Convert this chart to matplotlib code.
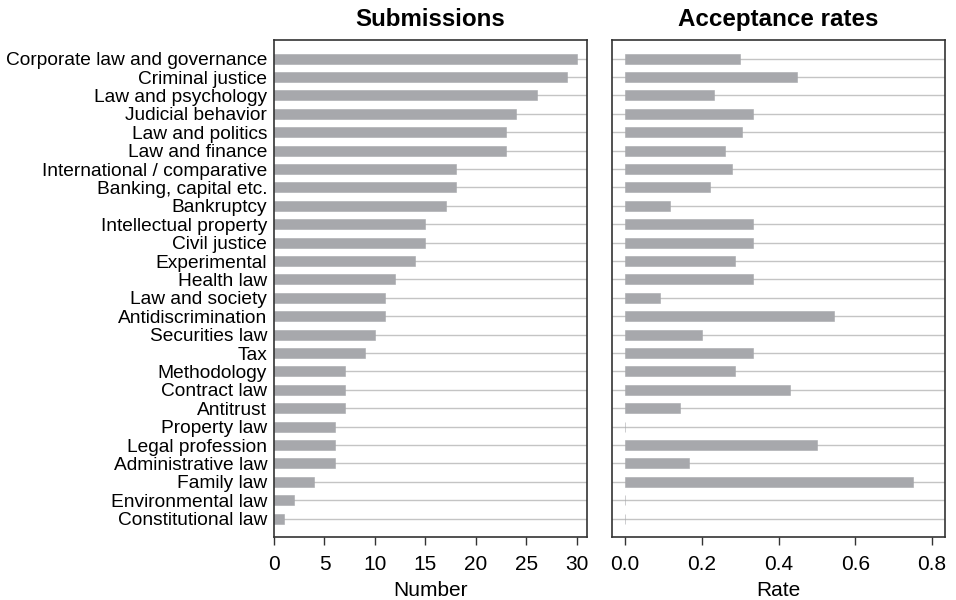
import numpy as np
import matplotlib.pyplot as plt

plt.rcParams['font.family'] = ['Liberation Sans', 'DejaVu Sans']

categories = ["Corporate law and governance", "Criminal justice", "Law and psychology",
              "Judicial behavior", "Law and politics", "Law and finance",
              "International / comparative", "Banking, capital etc.", "Bankruptcy",
              "Intellectual property", "Civil justice", "Experimental", "Health law",
              "Law and society", "Antidiscrimination", "Securities law", "Tax",
              "Methodology", "Contract law", "Antitrust", "Property law",
              "Legal profession", "Administrative law", "Family law",
              "Environmental law", "Constitutional law"]
submissions = [30, 29, 26, 24, 23, 23, 18, 18, 17, 15, 15, 14, 12, 11, 11, 10, 9,
               7, 7, 7, 6, 6, 6, 4, 2, 1]
rates = [0.300, 0.448, 0.231, 0.333, 0.304, 0.261, 0.278, 0.222, 0.118, 0.333,
         0.333, 0.286, 0.333, 0.091, 0.545, 0.200, 0.333, 0.286, 0.429, 0.143,
         0.0, 0.500, 0.167, 0.750, 0.0, 0.0]

bar_col = '#a7a8ac'
grid_col = '#c4c4c4'
spine_col = '#333333'

fig = plt.figure(figsize=(9.56, 6.0), dpi=100)
ax1 = fig.add_axes([0.2866, 0.105, 0.3274, 0.828])
ax2 = fig.add_axes([0.6402, 0.105, 0.3483, 0.828])

y = np.arange(len(categories))

for ax, vals in ((ax1, submissions), (ax2, rates)):
    for yy in y:
        ax.axhline(yy, color=grid_col, lw=1.0, zorder=0)
    ax.barh(y, vals, height=0.55, color=bar_col, edgecolor=bar_col, lw=0.4, zorder=2)
    ax.set_ylim(len(categories), -1)
    for s in ax.spines.values():
        s.set_color(spine_col)
        s.set_linewidth(1.2)
    ax.tick_params(axis='y', length=0)
    ax.tick_params(axis='x', length=6, width=1.0, color=spine_col, labelsize=15, pad=7)

ax1.set_yticks(y)
ax1.set_yticklabels(categories, fontsize=13.8)
ax1.tick_params(axis='y', pad=5)
ax1.set_xlim(0, 31.0)
ax1.set_xticks([0, 5, 10, 15, 20, 25, 30])
ax1.set_xlabel("Number", fontsize=15, labelpad=5)
ax1.set_title("Submissions", fontsize=17.4, fontweight='bold', pad=10)

ax2.set_yticks([])
ax2.set_xlim(-0.034, 0.834)
ax2.set_xticks([0.0, 0.2, 0.4, 0.6, 0.8])
ax2.set_xticklabels(["0.0", "0.2", "0.4", "0.6", "0.8"])
ax2.set_xlabel("Rate", fontsize=15, labelpad=5)
ax2.set_title("Acceptance rates", fontsize=17.4, fontweight='bold', pad=10)

fig.savefig("out.png", dpi=100)
